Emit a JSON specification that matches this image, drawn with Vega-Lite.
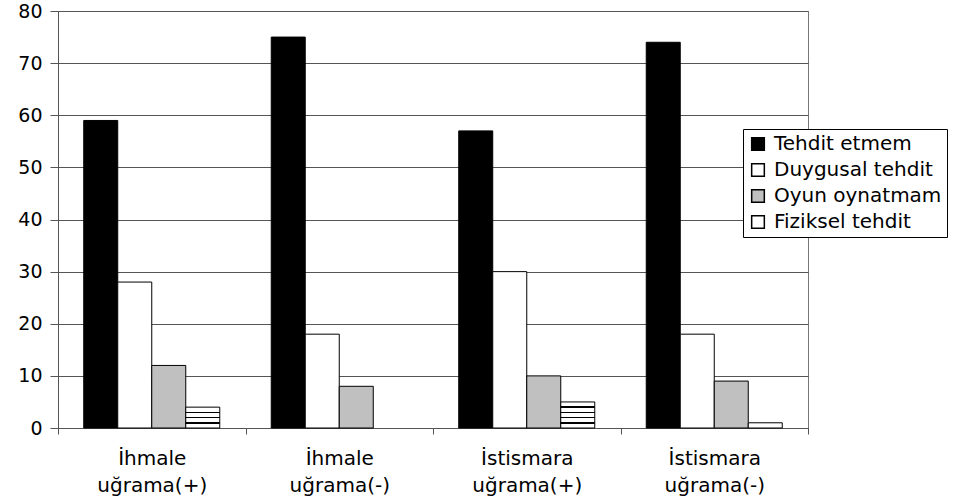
{
  "$schema": "https://vega.github.io/schema/vega-lite/v6.json",
  "width": 750,
  "height": 417,
  "autosize": {"type": "none"},
  "padding": {"left": 58, "top": 11, "right": 147, "bottom": 74},
  "background": "white",
  "config": {
    "view": {"stroke": "#777777", "strokeWidth": 1},
    "font": "DejaVu Sans"
  },
  "data": {
    "values": [
      {"group": "İhmale|uğrama(+)", "series": "Tehdit etmem", "value": 59},
      {"group": "İhmale|uğrama(+)", "series": "Duygusal tehdit", "value": 28},
      {"group": "İhmale|uğrama(+)", "series": "Oyun oynatmam", "value": 12},
      {"group": "İhmale|uğrama(+)", "series": "Fiziksel tehdit", "value": 4},
      {"group": "İhmale|uğrama(-)", "series": "Tehdit etmem", "value": 75},
      {"group": "İhmale|uğrama(-)", "series": "Duygusal tehdit", "value": 18},
      {"group": "İhmale|uğrama(-)", "series": "Oyun oynatmam", "value": 8},
      {"group": "İhmale|uğrama(-)", "series": "Fiziksel tehdit", "value": 0},
      {"group": "İstismara|uğrama(+)", "series": "Tehdit etmem", "value": 57},
      {"group": "İstismara|uğrama(+)", "series": "Duygusal tehdit", "value": 30},
      {"group": "İstismara|uğrama(+)", "series": "Oyun oynatmam", "value": 10},
      {"group": "İstismara|uğrama(+)", "series": "Fiziksel tehdit", "value": 5},
      {"group": "İstismara|uğrama(-)", "series": "Tehdit etmem", "value": 74},
      {"group": "İstismara|uğrama(-)", "series": "Duygusal tehdit", "value": 18},
      {"group": "İstismara|uğrama(-)", "series": "Oyun oynatmam", "value": 9},
      {"group": "İstismara|uğrama(-)", "series": "Fiziksel tehdit", "value": 1}
    ]
  },
  "mark": {"type": "bar", "stroke": "black", "strokeWidth": 1},
  "encoding": {
    "x": {
      "field": "group",
      "type": "nominal",
      "sort": ["İhmale|uğrama(+)", "İhmale|uğrama(-)", "İstismara|uğrama(+)", "İstismara|uğrama(-)"],
      "scale": {"paddingInner": 0, "paddingOuter": 0},
      "axis": {
        "title": null,
        "labelAngle": 0,
        "labelExpr": "split(datum.label, '|')",
        "labelFontSize": 20,
        "labelColor": "black",
        "labelLineHeight": 27,
        "labelPadding": 14,
        "labelBaseline": "top",
        "tickBand": "extent",
        "tickSize": 6,
        "tickColor": "#555555",
        "domainColor": "#555555",
        "grid": false
      }
    },
    "xOffset": {
      "field": "series",
      "type": "nominal",
      "sort": ["Tehdit etmem", "Duygusal tehdit", "Oyun oynatmam", "Fiziksel tehdit"],
      "scale": {"paddingOuter": 0.757, "paddingInner": 0}
    },
    "y": {
      "field": "value",
      "type": "quantitative",
      "scale": {"domain": [0, 80], "nice": false},
      "axis": {
        "title": null,
        "values": [0, 10, 20, 30, 40, 50, 60, 70, 80],
        "labelFontSize": 19,
        "labelColor": "black",
        "labelPadding": 8,
        "tickSize": 8,
        "tickColor": "#555555",
        "domainColor": "#555555",
        "gridColor": "#555555",
        "gridWidth": 1
      }
    },
    "strokeOpacity": {
      "condition": {"test": "datum.value === 0", "value": 0},
      "value": 1
    },
    "fill": {
      "condition": [
        {
          "test": "datum.series === 'Fiziksel tehdit' && datum.value === 4",
          "value": {
            "gradient": "linear", "x1": 0, "y1": 0, "x2": 0, "y2": 1,
            "stops": [
              {"offset": 0, "color": "white"},
              {"offset": 0.214, "color": "white"}, {"offset": 0.214, "color": "black"},
              {"offset": 0.286, "color": "black"}, {"offset": 0.286, "color": "white"},
              {"offset": 0.464, "color": "white"}, {"offset": 0.464, "color": "black"},
              {"offset": 0.536, "color": "black"}, {"offset": 0.536, "color": "white"},
              {"offset": 0.714, "color": "white"}, {"offset": 0.714, "color": "black"},
              {"offset": 0.786, "color": "black"}, {"offset": 0.786, "color": "white"},
              {"offset": 1, "color": "white"}
            ]
          }
        },
        {
          "test": "datum.series === 'Fiziksel tehdit' && datum.value === 5",
          "value": {
            "gradient": "linear", "x1": 0, "y1": 0, "x2": 0, "y2": 1,
            "stops": [
              {"offset": 0, "color": "white"},
              {"offset": 0.171, "color": "white"}, {"offset": 0.171, "color": "black"},
              {"offset": 0.229, "color": "black"}, {"offset": 0.229, "color": "white"},
              {"offset": 0.371, "color": "white"}, {"offset": 0.371, "color": "black"},
              {"offset": 0.429, "color": "black"}, {"offset": 0.429, "color": "white"},
              {"offset": 0.571, "color": "white"}, {"offset": 0.571, "color": "black"},
              {"offset": 0.629, "color": "black"}, {"offset": 0.629, "color": "white"},
              {"offset": 0.771, "color": "white"}, {"offset": 0.771, "color": "black"},
              {"offset": 0.829, "color": "black"}, {"offset": 0.829, "color": "white"},
              {"offset": 1, "color": "white"}
            ]
          }
        }
      ],
      "field": "series",
      "type": "nominal",
      "sort": ["Tehdit etmem", "Duygusal tehdit", "Oyun oynatmam", "Fiziksel tehdit"],
      "scale": {
        "domain": ["Tehdit etmem", "Duygusal tehdit", "Oyun oynatmam", "Fiziksel tehdit"],
        "range": ["black", "white", "#c0c0c0", "white"]
      },
      "legend": {
        "title": null,
        "orient": "none",
        "legendX": 685,
        "legendY": 118,
        "symbolType": "square",
        "symbolSize": 160,
        "labelFontSize": 20,
        "labelColor": "black",
        "labelOffset": 6,
        "rowPadding": 6,
        "padding": 5,
        "strokeColor": "black",
        "fillColor": "white",
        "labelLimit": 300,
        "encode": {
          "symbols": {
            "update": {
              "shape": {"signal": "(datum.index === 3 || datum.label === 'Fiziksel tehdit') ? 'M-1,-1H1V1H-1Z M-1,-0.33H1 M-1,0.33H1' : 'square'"},
              "stroke": {"value": "black"},
              "strokeWidth": {"value": 1},
              "strokeOpacity": {"value": 1},
              "opacity": {"value": 1}
            }
          }
        }
      }
    }
  }
}
